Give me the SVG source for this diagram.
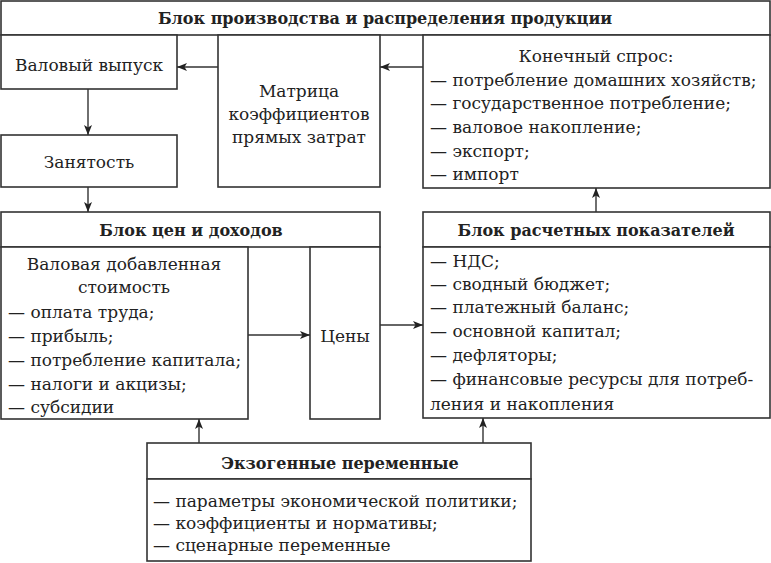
<svg xmlns="http://www.w3.org/2000/svg" width="771" height="563" viewBox="0 0 771 563">
<defs>
<style>
.b{fill:#fff;stroke:#333;stroke-width:1.6}
.t{font-size:17px;fill:#222}
.h{font-weight:bold;font-size:16px}
.c{text-anchor:middle}
.l{fill:none;stroke:#333;stroke-width:1.4}
</style>
<marker id="a" viewBox="0 0 10 8" refX="10" refY="4" markerWidth="10" markerHeight="8" markerUnits="userSpaceOnUse" orient="auto">
<path d="M0,0 L10,4 L0,8 L2.5,4 Z" fill="#222"/>
</marker>
</defs>
<rect width="771" height="563" fill="#fff"/>
<g font-family="'DejaVu Serif', serif">
<g id="prod-block">
<rect class="b" x="1" y="1" width="769" height="34"/>
<text class="t h c" x="385" y="24">Блок производства и распределения продукции</text>
</g>
<g id="gross-output">
<rect class="b" x="1" y="35" width="176" height="54"/>
<text class="t c" x="89" y="71">Валовый выпуск</text>
</g>
<g id="employment">
<rect class="b" x="1" y="135" width="176" height="52"/>
<text class="t c" x="89" y="168">Занятость</text>
</g>
<g id="matrix">
<rect class="b" x="218" y="35" width="162" height="152"/>
<text class="t c" x="299" y="97">Матрица</text>
<text class="t c" x="299" y="120">коэффициентов</text>
<text class="t c" x="299" y="143">прямых затрат</text>
</g>
<g id="final-demand">
<rect class="b" x="423" y="35" width="347" height="153"/>
<text class="t c" x="596" y="62">Конечный спрос:</text>
<text class="t" x="430" y="85.5">— потребление домашних хозяйств;</text>
<text class="t" x="430" y="109">— государственное потребление;</text>
<text class="t" x="430" y="133">— валовое накопление;</text>
<text class="t" x="430" y="156.5">— экспорт;</text>
<text class="t" x="430" y="180">— импорт</text>
</g>
<g id="price-block">
<rect class="b" x="1" y="212" width="379" height="35"/>
<text class="t h c" x="191" y="236">Блок цен и доходов</text>
</g>
<g id="gva">
<rect class="b" x="1" y="247" width="247" height="172"/>
<text class="t c" x="124" y="270">Валовая добавленная</text>
<text class="t c" x="124" y="293">стоимость</text>
<text class="t" x="8" y="318">— оплата труда;</text>
<text class="t" x="8" y="342">— прибыль;</text>
<text class="t" x="8" y="366">— потребление капитала;</text>
<text class="t" x="8" y="390">— налоги и акцизы;</text>
<text class="t" x="8" y="413">— субсидии</text>
</g>
<g id="prices">
<rect class="b" x="310" y="247" width="70" height="172"/>
<text class="t c" x="345" y="342">Цены</text>
</g>
<g id="indicators-block">
<rect class="b" x="423" y="212" width="347" height="35"/>
<text class="t h c" x="596" y="236">Блок расчетных показателей</text>
<rect class="b" x="423" y="247" width="347" height="171"/>
<text class="t" x="430" y="267">— НДС;</text>
<text class="t" x="430" y="290">— сводный бюджет;</text>
<text class="t" x="430" y="313">— платежный баланс;</text>
<text class="t" x="430" y="337">— основной капитал;</text>
<text class="t" x="430" y="361">— дефляторы;</text>
<text class="t" x="430" y="385">— финансовые ресурсы для потреб-</text>
<text class="t" x="430" y="410">ления и накопления</text>
</g>
<g id="exogenous">
<rect class="b" x="147" y="443" width="384" height="36"/>
<text class="t h c" x="340" y="469">Экзогенные переменные</text>
<rect class="b" x="147" y="479" width="384" height="82"/>
<text class="t" x="153" y="507">— параметры экономической политики;</text>
<text class="t" x="153" y="529">— коэффициенты и нормативы;</text>
<text class="t" x="153" y="551">— сценарные переменные</text>
</g>
</g>
<g id="connectors">
<line class="l" x1="218" y1="67" x2="177" y2="67" marker-end="url(#a)"/>
<line class="l" x1="423" y1="67" x2="380" y2="67" marker-end="url(#a)"/>
<line class="l" x1="88" y1="89" x2="88" y2="135" marker-end="url(#a)"/>
<line class="l" x1="88" y1="187" x2="88" y2="212" marker-end="url(#a)"/>
<line class="l" x1="248" y1="335" x2="310" y2="335" marker-end="url(#a)"/>
<line class="l" x1="380" y1="325" x2="423" y2="325" marker-end="url(#a)"/>
<line class="l" x1="596" y1="212" x2="596" y2="188" marker-end="url(#a)"/>
<line class="l" x1="199" y1="443" x2="199" y2="419" marker-end="url(#a)"/>
<line class="l" x1="483" y1="443" x2="483" y2="418" marker-end="url(#a)"/>
</g>
</svg>
